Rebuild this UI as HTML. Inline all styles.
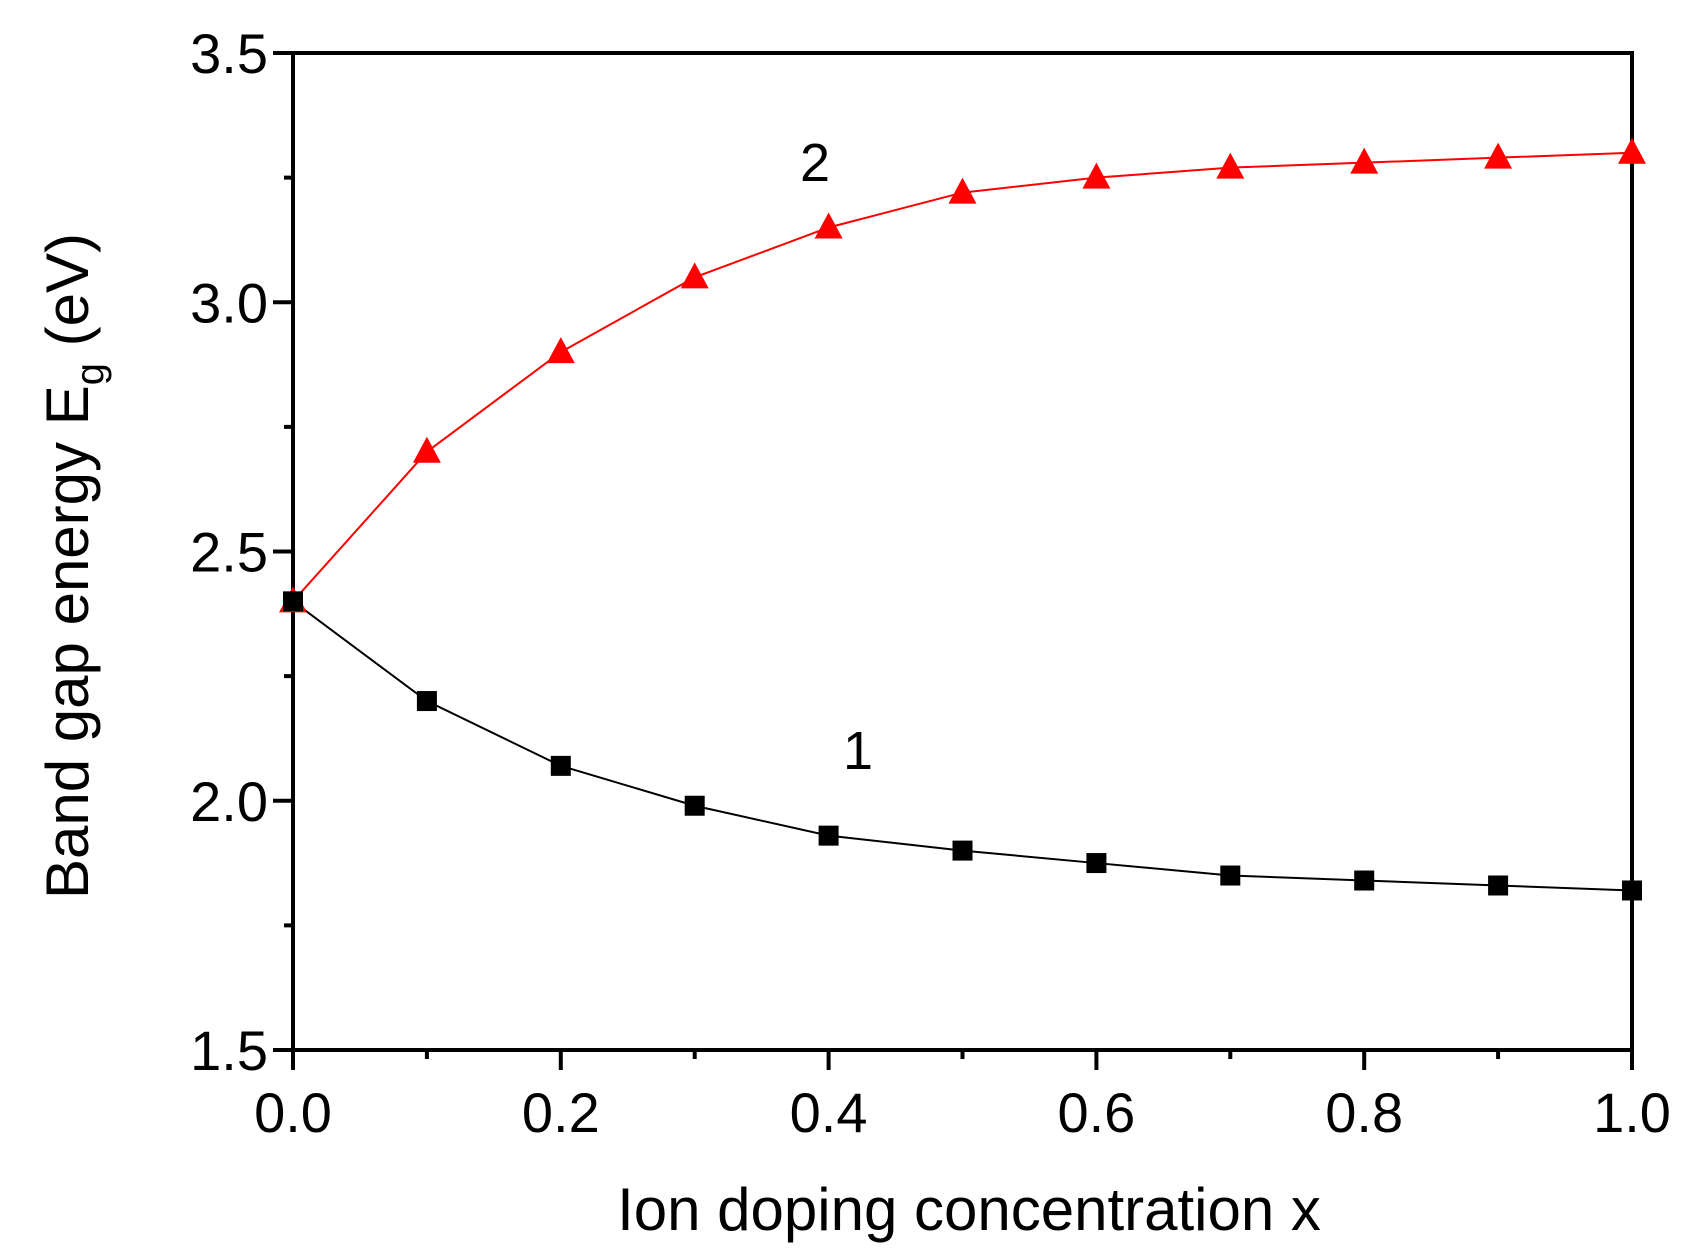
<!DOCTYPE html>
<html><head><meta charset="utf-8"><style>
html,body{margin:0;padding:0;background:#fff;}
svg{display:block;font-family:"Liberation Sans",Arial,sans-serif;}
</style></head><body>
<svg id="chart" width="1699" height="1253" viewBox="0 0 1699 1253">
<g id="axes"></g><g id="series"></g>
<text x="815" y="181" font-size="54" text-anchor="middle">2</text>
<text x="858" y="769" font-size="54" text-anchor="middle">1</text>
<text x="969" y="1230" font-size="60" text-anchor="middle">Ion doping concentration x</text>
<text transform="translate(88,566) rotate(-90)" font-size="60" text-anchor="middle">Band gap energy E<tspan font-size="40" dy="15">g</tspan><tspan dy="-15"> (eV)</tspan></text>
</svg>
<script>
const xValues=[0,0.1,0.2,0.3,0.4,0.5,0.6,0.7,0.8,0.9,1.0];
const series2=[2.4,2.7,2.9,3.05,3.15,3.22,3.25,3.27,3.28,3.29,3.30];
const series1=[2.4,2.2,2.07,1.99,1.93,1.90,1.875,1.85,1.84,1.83,1.82];
const xTicks=["0.0","0.2","0.4","0.6","0.8","1.0"];
const yTicks=["1.5","2.0","2.5","3.0","3.5"];
const L=293,R=1632,T=53,B=1050;
const sx=v=>L+(v-0)/(1-0)*(R-L);
const sy=v=>B-(v-1.5)/(3.5-1.5)*(B-T);
const NS="http://www.w3.org/2000/svg";
function mk(tag,attrs,parent){const e=document.createElementNS(NS,tag);for(const k in attrs)e.setAttribute(k,attrs[k]);parent.appendChild(e);return e;}
const ax=document.getElementById('axes');
const frame=mk('rect',{x:L,y:T,width:R-L,height:B-T,fill:'none',stroke:'#000','stroke-width':4},ax);


for(let i=0;i<=10;i++){const v=i/10;const x=sx(v);const major=i%2===0;
 const t=mk('line',{x1:x,x2:x,y1:B,y2:B+(major?20:9),stroke:'#000','stroke-width':4},ax);
 
 }
xTicks.forEach(s=>{const tx=mk('text',{x:sx(parseFloat(s)),y:1132,'font-size':56,'text-anchor':'middle'},ax);tx.textContent=s;
 
 });
for(let i=0;i<=8;i++){const v=1.5+i*0.25;const y=sy(v);const major=i%2===0;
 const t=mk('line',{x1:L-(major?20:9),x2:L,y1:y,y2:y,stroke:'#000','stroke-width':4},ax);
 
 }
yTicks.forEach(s=>{const ty=mk('text',{x:268,y:sy(parseFloat(s))+20,'font-size':56,'text-anchor':'end'},ax);ty.textContent=s;
 
 });
const sg=document.getElementById('series');
function line(vals,color,name){const p=mk('polyline',{points:xValues.map((x,i)=>sx(x)+','+sy(vals[i])).join(' '),fill:'none',stroke:color,'stroke-width':2},sg);
 
 }
line(series2,'#f00','series-2-line');
line(series1,'#000','series-1-line');
xValues.forEach((x,i)=>{const cx=sx(x),cy=sy(series2[i]);
 const m=mk('polygon',{points:`${cx},${cy-15} ${cx+14},${cy+11} ${cx-14},${cy+11}`,fill:'#f00'},sg);
 
 });
xValues.forEach((x,i)=>{const cx=sx(x),cy=sy(series1[i]);
 const m=mk('rect',{x:cx-10,y:cy-10,width:20,height:20,fill:'#000'},sg);
 
 });
</script>
</body></html>
